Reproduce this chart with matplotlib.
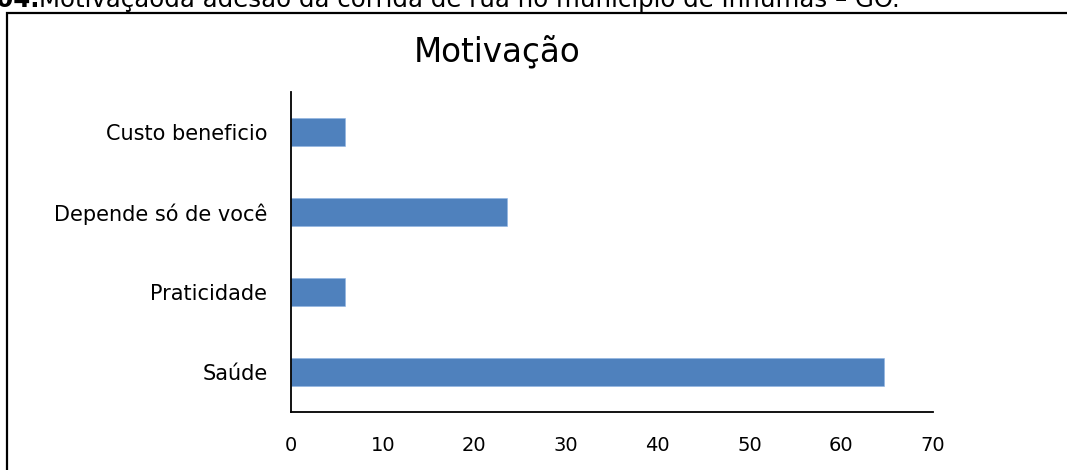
import matplotlib
matplotlib.use("Agg")
import matplotlib.pyplot as plt
from matplotlib.patches import Rectangle

categories = ["Saúde", "Praticidade", "Depende só de você", "Custo beneficio"]
values = [64.71, 5.88, 23.53, 5.88]
xticks = [0, 10, 20, 30, 40, 50, 60, 70]
title = "Motivação"
caption_bold = "Figura 04."
caption_rest = "Motivaçãoda adesão da corrida de rua no município de Inhumas – GO."

W, H = 1067, 470
fig = plt.figure(figsize=(W / 100, H / 100), dpi=100)
plt.rcParams['font.family'] = ['DejaVu Sans']

# outer frame (extends past the right and bottom edges)
fig.patches.append(Rectangle((7 / W, -0.1), 1.2, 1 - 13 / H + 0.1,
                             transform=fig.transFigure, fill=False,
                             edgecolor='black', linewidth=1.6))

ax = fig.add_axes([291 / W, 1 - 412 / H, (933 - 291) / W, (412 - 92) / H])
ax.barh(range(len(categories)), values, height=0.36, color='#4F81BD',
        edgecolor='#8EB4E3', linewidth=0.4)
ax.set_yticks(range(len(categories)))
ax.set_yticklabels(categories, fontsize=15)
ax.set_xticks(xticks)
ax.set_xticklabels([str(v) for v in xticks], fontsize=14)
ax.set_xlim(0, 70)
ax.set_ylim(-0.5, len(categories) - 0.5)
ax.tick_params(axis='both', length=0)
ax.tick_params(axis='y', pad=17)
ax.tick_params(axis='x', pad=17)
for s in ['top', 'right']:
    ax.spines[s].set_visible(False)
for s in ['left', 'bottom']:
    ax.spines[s].set_linewidth(1.3)
    ax.spines[s].set_color('black')

fig.text(497 / W, 1 - 61 / H, title, fontsize=23.5, ha='center', va='baseline')

fig.text(39 / W, 1 - 7 / H, caption_bold, fontsize=17.6, fontweight='bold',
         ha='right', va='baseline')
fig.text(39 / W, 1 - 7 / H, caption_rest, fontsize=17.6, ha='left', va='baseline')

fig.savefig("out.png", dpi=100, facecolor='white')
